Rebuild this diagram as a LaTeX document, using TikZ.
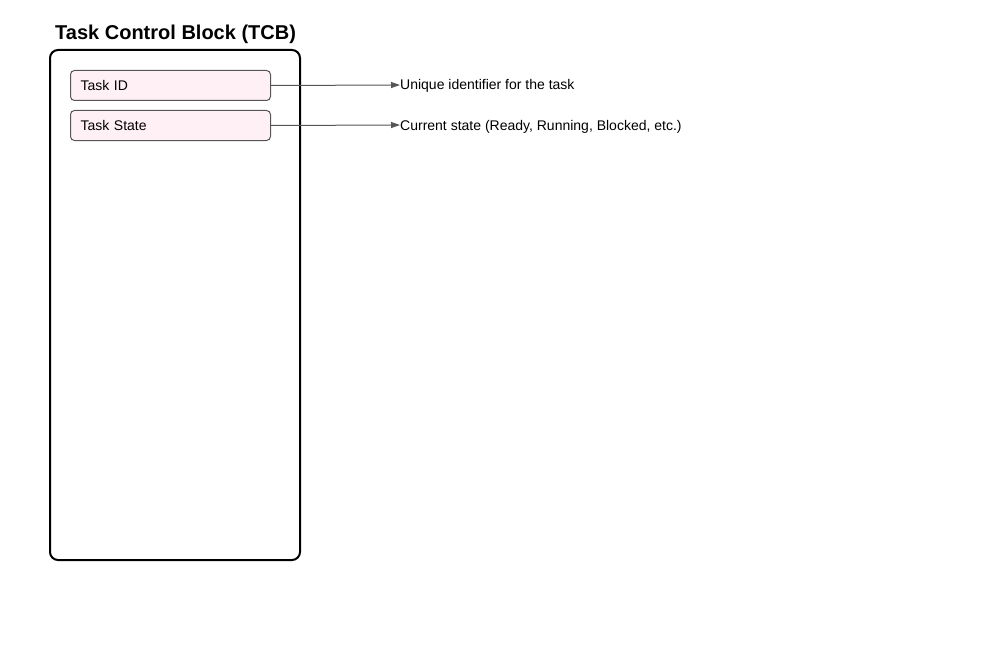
\documentclass[tikz,border=0pt]{standalone}
\usepackage{fontspec}
\setmainfont{Liberation Sans}
\usetikzlibrary{positioning, arrows.meta}
\definecolor{fieldfill}{HTML}{FFF0F5}
\definecolor{linkgray}{HTML}{555555}

\begin{document}
\begin{tikzpicture}[x=1pt, y=-1pt,
        field/.style = {draw=linkgray, fill=fieldfill, rounded corners=4pt, line width=1pt,
                        minimum width=200pt, minimum height=30pt, inner xsep=10pt,
                        text width=180pt, align=left, font=\fontsize{14}{16}\selectfont, anchor=north west},
        note/.style = {anchor=west, inner sep=0pt, text height=10pt, text depth=0pt,
                       font=\fontsize{14}{16}\selectfont},
        link/.style = {draw=linkgray, line width=1pt, -{Triangle[length=9pt, width=6pt]}}]

    \useasboundingbox (0,0) rectangle (1000,650);

    % Block:
    \node[anchor=west, inner sep=0pt, font=\bfseries\fontsize{20}{24}\selectfont] (title) at (55,34) {Task Control Block (TCB)};
    \draw[line width=2pt, rounded corners=8pt] (50,50) rectangle (300,560);

    % Fields:
    \node[field] (taskid) at (70,70) {Task ID};
    \node[field] (taskstate) at (70,110) {Task State};

    \node[note] (idnote) at (400,85) {Unique identifier for the task};
    \node[note] (statenote) at (400,125) {Current state (Ready, Running, Blocked, etc.)};

    \draw[link] (taskid.east) -- (idnote.west);
    \draw[link] (taskstate.east) -- (statenote.west);
\end{tikzpicture}
\end{document}
